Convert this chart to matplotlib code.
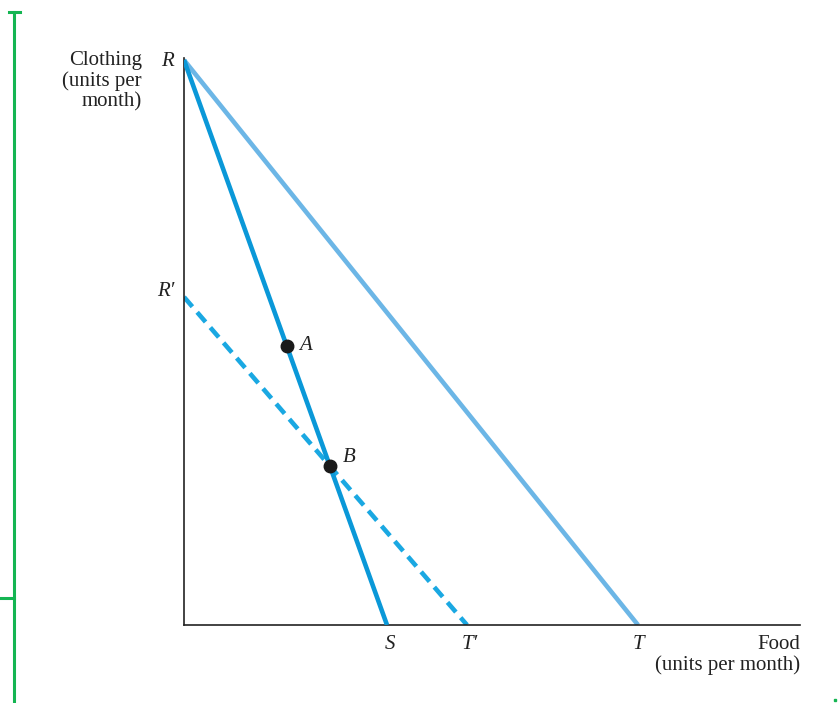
import matplotlib.pyplot as plt
from matplotlib.lines import Line2D

# budget lines (food, clothing) in chart units
r_top = 565
r_prime = 328
s_food = 203
t_prime_food = 283
t_food = 454
point_names = ["A", "B"]
point_food = [103, 146]
point_cloth = [279, 159]

plt.rcParams["font.family"] = ["Liberation Serif", "DejaVu Serif"]

fig = plt.figure(figsize=(8.38, 7.03), dpi=100)
W, H = 838, 703
ax = fig.add_axes([184 / W, (H - 625) / H, (800 - 184) / W, 567 / H])
ax.set_xlim(0, 616)
ax.set_ylim(0, 567)
for s in ["top", "right"]:
    ax.spines[s].set_visible(False)
for s in ["left", "bottom"]:
    ax.spines[s].set_linewidth(1.2)
    ax.spines[s].set_color("#222222")
ax.set_xticks([])
ax.set_yticks([])

ax.plot([0, t_food], [r_top, 0], color="#6cb6e6", lw=3.3, solid_capstyle="butt", zorder=2)
ax.plot([0, s_food], [r_top, 0], color="#0a98d8", lw=3.3, solid_capstyle="butt", zorder=3)
ax.plot([0, t_prime_food], [r_prime, 0], color="#1aa8e2", lw=3.3,
        dashes=(2.8, 1.6), zorder=2)
ax.plot(point_food, point_cloth, "o", color="#1a1a1a", ms=9, zorder=4)

fs = 15
ital = dict(fontsize=fs, style="italic", color="#222222")
for name, fx, cy in zip(point_names, point_food, point_cloth):
    ax.annotate(name, (fx, cy), xytext=(9, 0 if name == "A" else 6),
                textcoords="offset points", va="center", **ital)

ax.text(-10, r_top - 2, "R", ha="right", va="center", **ital)
ax.text(-10, r_prime + 5, "R′", ha="right", va="center", **ital)
for lab, fx in [("S", s_food), ("T′", t_prime_food), ("T", t_food)]:
    ax.text(fx + (3 if lab != "T" else 0), -10, lab, ha="center", va="top", **ital)

ax.text(-42, r_top + 9, "Clothing\n(units per\nmonth)", ha="right", va="top",
        fontsize=fs, color="#222222", linespacing=1.1)
ax.text(616, -10, "Food\n(units per month)", ha="right", va="top",
        fontsize=fs, color="#222222", linespacing=1.1, multialignment="right")

# green bracket on the left
green = "#14b552"
fig.add_artist(Line2D([14 / W, 14 / W], [1 - 12 / H, 0], color=green, lw=2.2))
fig.add_artist(Line2D([9 / W, 20 / W], [1 - 12 / H, 1 - 12 / H], color=green, lw=2.2))
fig.add_artist(Line2D([0, 14 / W], [1 - 598 / H, 1 - 598 / H], color=green, lw=2.2))
fig.add_artist(Line2D([835 / W], [1 - 700 / H], marker="s", ms=2, color=green, lw=0))

fig.savefig("out.png", dpi=100)
